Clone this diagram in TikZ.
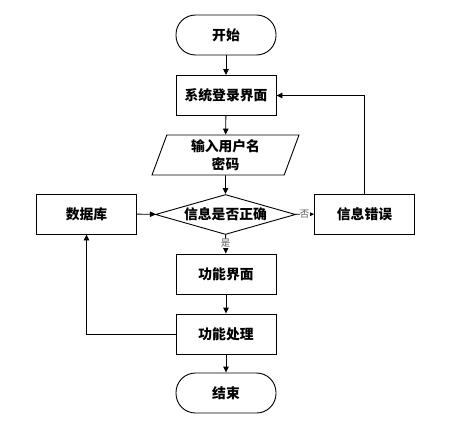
\documentclass[tikz,border=0pt]{standalone}
\usepackage{fontspec}
\setmainfont{Noto Sans CJK SC}
\usetikzlibrary{shapes.geometric,arrows.meta}
\begin{document}
\begin{tikzpicture}[x=1pt,y=-1pt,
  base/.style={draw=black,line width=0.9pt,font=\fontsize{13.8}{18}\selectfont\bfseries,align=center,inner sep=0pt},
  procbox/.style={base,rectangle,minimum width=100pt,minimum height=40pt},
  termbox/.style={base,rectangle,rounded corners=19.5pt,minimum width=100pt,minimum height=40pt},
  iobox/.style={base,trapezium,trapezium left angle=64.6,trapezium right angle=115.4,trapezium stretches body,minimum width=147pt,minimum height=40pt},
  decbox/.style={base,diamond,aspect=3.5,minimum width=140pt,minimum height=40pt},
  arr/.style={line width=0.9pt,-{Triangle[length=6pt,width=5.5pt]}},
  lbl/.style={font=\fontsize{9.5}{10}\selectfont,text=black!65,fill=white,inner sep=0.3pt}]
\useasboundingbox (0,0) rectangle (457,428);
\node[termbox] (start) at (226,35) {开始};
\node[procbox] (login) at (226,95.5) {系统登录界面};
\node[iobox] (inp) at (225.5,155) {输入用户名\\密码};
\node[decbox] (dia) at (225.5,214.5) {信息是否正确};
\node[procbox] (db) at (86.5,214) {数据库};
\node[procbox] (err) at (364.5,214) {信息错误};
\node[procbox] (func) at (226,274) {功能界面};
\node[procbox] (proc) at (226,334) {功能处理};
\node[termbox] (end) at (226,393) {结束};
\draw[arr] (start) -- (login);
\draw[arr] (login) -- (inp);
\draw[arr] (inp) -- (dia);
\draw[arr] (dia) -- node[lbl,pos=0.45]{是} (func);
\draw[arr] (dia) -- node[lbl]{否} (err);
\draw[arr] (err.north) |- (login.east);
\draw[arr] (db) -- (dia);
\draw[arr] (func) -- (proc);
\draw[arr] (proc) -- (end);
\draw[arr] (proc.west) -| (db.south);
\end{tikzpicture}
\end{document}
